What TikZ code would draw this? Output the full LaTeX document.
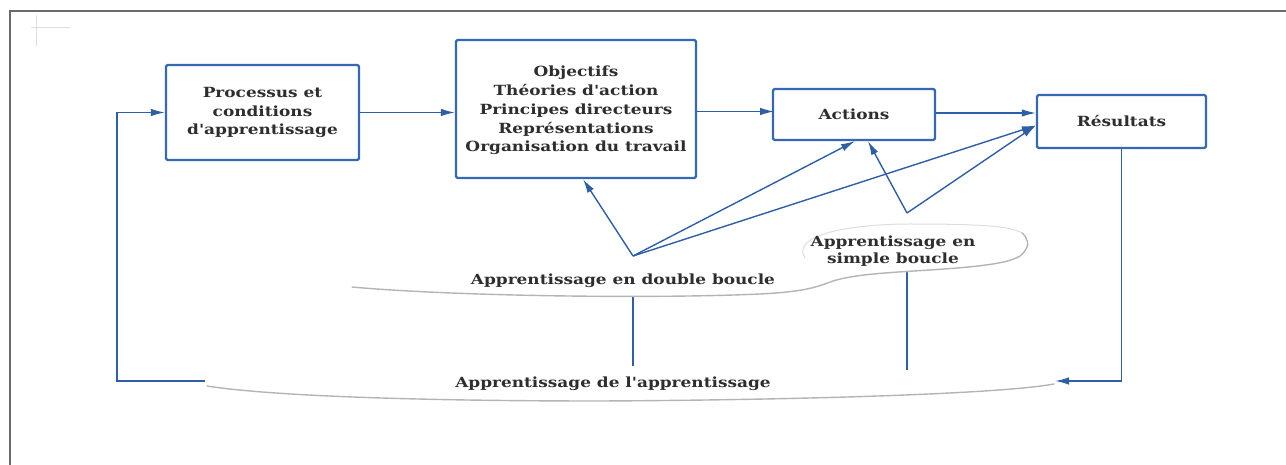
\documentclass[tikz,border=0pt]{standalone}
\usepackage{fontspec}
\setmainfont[FakeStretch=1.21,Ligatures=TeXOff]{DejaVu Serif}
\usetikzlibrary{arrows.meta,calc}
\definecolor{lineblue}{HTML}{2D5FA8}
\definecolor{boxblue}{HTML}{3569B5}
\definecolor{txt}{HTML}{2E2E2E}
\definecolor{frame}{HTML}{6A6A6A}
\definecolor{cloudedge}{HTML}{B4B4B4}
\tikzset{
  box/.style={draw=boxblue, line width=2.2pt, rounded corners=1.5pt, fill=white,
    align=center, font=\fontsize{14}{18.7}\selectfont\bfseries, text=txt, inner sep=0pt},
  conn/.style={draw=lineblue, line width=1.4pt},
  arr/.style={conn, -{Latex[length=14pt,width=7.5pt]}},
  lab/.style={align=center, font=\fontsize{14}{16.5}\selectfont\bfseries, text=txt, inner sep=0pt},
  cloudfill/.style={fill=white, draw=none},
  cloudline/.style={draw=cloudedge, line width=1.4pt, line cap=round},
  cloudfaint/.style={draw=cloudedge!45, line width=1pt, line cap=round}
}
\begin{document}
\begin{tikzpicture}[x=1pt,y=-1pt]
\useasboundingbox (0,0) rectangle (1286,465);
% outer frame
\draw[frame, line width=1.6pt] (10,465) -- (10,11) -- (1286,11);
\draw[gray!25, line width=0.8pt] (36,15) -- (36,46) (31,27) -- (70,27);

% boxes
\node[box, minimum width=193pt, minimum height=95pt] (proc) at (262.5,112.5)
  {Processus et\\conditions\\d'apprentissage};
\node[box, minimum width=240pt, minimum height=138pt, text depth=-6pt] (obj) at (576,109)
  {Objectifs\\Théories d'action\\Principes directeurs\\Représentations\\Organisation du travail};
\node[box, minimum width=162pt, minimum height=51pt] (act) at (854,114.5) {Actions};
\node[box, minimum width=169pt, minimum height=53pt] (res) at (1121.5,121.5) {Résultats};

% coordinates
\coordinate (dl) at (633,256);
\coordinate (sl) at (907,213);
\coordinate (objin) at ([xshift=7pt]obj.south);
\coordinate (actin1) at ([xshift=1pt]act.south);
\coordinate (actin2) at ([xshift=14pt]act.south);
\coordinate (resin) at ([yshift=-4pt]res.west);
\coordinate (dlbot) at (633,297);
\coordinate (slbot) at (907,271);
\coordinate (dltop) at (633,368);
\coordinate (sltop) at (907,370);
\coordinate (llstart) at (205,381);
\coordinate (llcorner) at (117,381);
\coordinate (rlend) at (1055,381);

% main flow arrows
\draw[arr] (proc.east) -- (proc.east -| obj.west);
\draw[arr] (act.west -| obj.east) ++(0,-3) -- ++(77,0) coordinate (a2end);
\draw[arr] (act.east) ++(0,-1.5) -- ([yshift=1.5pt]act.east -| res.west);

% loops
\draw[arr] (dl) -- (objin);
\draw[arr] (dl) -- (actin1);
\draw[arr] (dl) -- (resin);
\draw[arr] (sl) -- (actin2);
\draw[arr] (sl) -- (resin);

% vertical links to bottom cloud
\draw[conn] (dlbot) -- (dltop);
\draw[conn] (slbot) -- (sltop);

% outer loops
\draw[arr] (llstart) -- (llcorner) |- (proc.west);
\draw[arr] (res.south) |- (rlend);

% clouds
% double loop cloud
\path[cloudfill] (352,288) .. controls (380,272) and (450,262) .. (560,262)
  .. controls (680,260) and (790,262) .. (815,272)
  .. controls (822,282) and (800,292) .. (760,294)
  .. controls (650,299) and (450,298) .. (352,288) -- cycle;
\draw[cloudline] (352,287) .. controls (450,296) and (650,299) .. (760,294)
  .. controls (800,292) and (815,288) .. (830,282);
% simple loop cloud
\path[cloudfill] (800,250) .. controls (790,230) and (850,224) .. (910,224)
  .. controls (980,224) and (1030,228) .. (1028,245)
  .. controls (1030,262) and (990,266) .. (930,270)
  .. controls (880,274) and (850,280) .. (830,282)
  .. controls (805,275) and (800,262) .. (800,250) -- cycle;
\draw[cloudfaint] (805,258) .. controls (790,235) and (850,224) .. (910,224)
  .. controls (980,224) and (1010,226) .. (1022,233);
\draw[cloudline] (830,282) .. controls (850,275) and (880,273) .. (930,270)
  .. controls (990,266) and (1018,262) .. (1024,252)
  .. controls (1030,245) and (1028,238) .. (1022,233);
% bottom cloud
\path[cloudfill] (205,385) .. controls (260,372) and (420,366) .. (620,366)
  .. controls (820,366) and (1000,372) .. (1056,381)
  .. controls (1000,394) and (800,400) .. (600,401)
  .. controls (400,401) and (260,396) .. (205,385) -- cycle;
\draw[cloudline] (207,386) .. controls (270,396) and (420,401) .. (600,401)
  .. controls (800,400) and (1000,394) .. (1054,384);

% labels
\node[lab] (dlab) at (623,281) {Apprentissage en double boucle};
\node[lab] (slab) at (893,251) {Apprentissage en\\simple boucle};
\node[lab] (blab) at (613,384) {Apprentissage de l'apprentissage};
\end{tikzpicture}
\end{document}
